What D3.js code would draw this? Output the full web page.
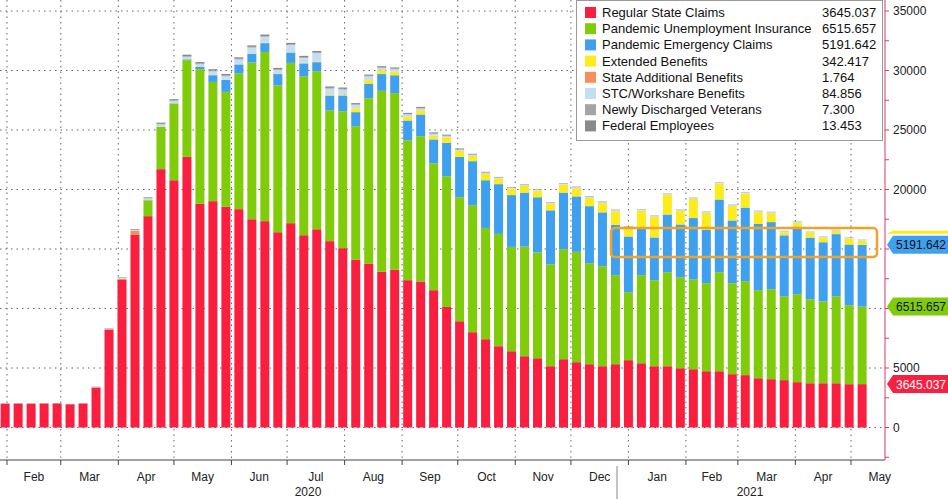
<!DOCTYPE html>
<html><head><meta charset="utf-8">
<script src="https://cdnjs.cloudflare.com/ajax/libs/d3/7.8.5/d3.min.js"></script>
<style>
body{margin:0;background:#fff;}
text{font-family:"Liberation Sans Narrow","Liberation Sans",Arial,sans-serif;}
</style></head><body>
<svg id="chart" width="948" height="499"></svg>
<script>
// weekly continued claims (thousands), week 0 = end of Jan 2020
var firstWeek = new Date(2020, 0, 31);
var nWeeks = 67;

var regular = [2000,2010,2000,2010,2020,1950,2010,3360,8230,12440,16220,17760,21710,20780,22740,18790,19020,18540,18350,17500,17340,16410,17170,16160,16660,15660,15070,14120,13780,13080,13250,12380,12270,11540,10130,8930,8010,7420,6830,6410,5990,5820,5150,5740,5490,5320,5150,5320,5660,5400,5150,5150,4980,4900,4730,4730,4480,4400,4140,4060,3980,3810,3720,3720,3720,3640,3645.037];
var pua = [0,0,0,0,0,0,0,0,0,0,0,1330,3550,6450,8130,11320,10020,9660,11400,13170,14220,12350,13470,13360,13280,11000,11510,11200,13890,15210,14850,11760,12210,10650,10990,10420,10670,9350,9440,8770,9210,8890,8570,9240,9270,8490,8400,7480,5710,7400,7230,7900,7650,7560,7400,8320,7650,7900,7400,7560,7050,7390,7060,6880,7310,6640,6515.657];
var peuc = [0,0,0,0,0,0,0,0,0,0,0,0,0,0,60,190,560,1000,750,730,740,940,860,1080,760,1240,1320,1180,1230,1410,1500,1660,1820,2020,2810,3390,3700,4010,4180,4350,4540,4640,4530,4760,4660,4790,4530,4240,4680,3920,3590,4850,4430,5140,4470,6110,5270,6180,5560,5640,5120,5670,5180,4970,5220,5100,5191.642];
var extended = [0,0,0,0,0,0,0,0,0,0,0,0,0,0,0,10,10,10,10,10,20,20,20,30,40,60,80,300,300,300,300,300,350,300,450,500,420,520,450,530,560,550,550,660,680,700,770,1120,710,1500,1730,1650,1140,1600,1430,1340,1200,1170,990,740,250,330,390,390,250,500,342.417];
var stateAdd = [0,0,0,0,0,0,0,20,40,60,300,20,20,20,20,20,20,20,20,20,20,20,20,20,20,20,20,10,10,10,10,10,10,10,10,10,10,5,5,5,5,5,5,5,5,5,5,5,5,5,5,5,5,5,5,5,5,5,5,5,5,2,2,2,2,2,1.764];
var stc = [0,0,0,0,0,0,0,20,40,60,80,150,200,200,200,200,300,300,400,500,500,300,600,400,700,500,400,300,300,200,200,200,150,150,100,100,100,100,90,90,90,90,90,90,90,90,90,90,90,90,90,90,90,90,90,90,90,90,90,90,90,90,85,85,85,85,84.856];
var veterans = [10,10,10,10,10,10,10,10,10,15,20,20,40,40,60,60,60,60,60,60,60,60,60,60,60,60,60,50,50,50,50,40,40,40,40,30,30,30,20,20,20,20,20,20,20,20,20,20,20,20,10,10,10,10,10,10,10,10,10,10,10,10,8,8,8,8,7.300];
var federal = [20,20,20,20,20,20,20,20,30,40,60,60,100,100,120,120,120,120,120,120,120,120,120,120,120,120,110,100,100,100,100,90,90,90,80,70,60,50,40,40,30,30,30,30,30,30,30,30,30,20,20,20,20,20,20,20,20,20,20,20,20,20,15,15,15,15,13.453];

var seriesNames = ["Regular State Claims","Pandemic Unemployment Insurance","Pandemic Emergency Claims","Extended Benefits","State Additional Benefits","STC/Workshare Benefits","Newly Discharged Veterans","Federal Employees"];
var seriesColors = ["#fa1e3f","#80cc0b","#3fa0ef","#fcec1c","#f4915a","#c4def2","#a4a4a4","#8a8a8a"];
var seriesData = [regular,pua,peuc,extended,stateAdd,stc,veterans,federal];
var yTicks = [0,5000,10000,15000,20000,25000,30000,35000];
var monthLabels = ["Feb","Mar","Apr","May","Jun","Jul","Aug","Sep","Oct","Nov","Dec","Jan","Feb","Mar","Apr","May"];

var svg = d3.select("#chart");
var weeks = d3.range(nWeeks).map(i => d3.timeDay.offset(firstWeek, 7 * i));

var x = d3.scaleTime().domain([new Date(2020,1,1), new Date(2021,4,1)]).range([7, 851]);
var y = d3.scaleLinear().domain([0, 35000]).range([427.5, 11]);

// build stack table
var keys = seriesNames;
var table = weeks.map(function(d, i) {
  var row = {date: d};
  keys.forEach(function(k, j) { row[k] = seriesData[j][i]; });
  return row;
});
var stacked = d3.stack().keys(keys)(table);

// grid
svg.append("g").selectAll("line").data(d3.range(0, 35001, 5000)).join("line")
  .attr("x1", 0).attr("x2", 883).attr("y1", d => y(d)).attr("y2", d => y(d))
  .attr("stroke", "#666").attr("stroke-dasharray", "1.5,4");

var monthStarts = d3.timeMonth.range(new Date(2020,1,1), new Date(2021,4,2));
svg.append("g").selectAll("line").data(monthStarts).join("line")
  .attr("x1", d => x(d)).attr("x2", d => x(d)).attr("y1", 0).attr("y2", 460)
  .attr("stroke", "#666").attr("stroke-dasharray", "1.5,4");

// bars
var barW = 9;
svg.append("g").selectAll("g").data(stacked).join("g")
  .attr("fill", (d, i) => seriesColors[i])
  .selectAll("rect").data(d => d).join("rect")
  .attr("x", d => x(d.data.date) - barW / 2)
  .attr("width", barW)
  .attr("y", d => y(d[1]))
  .attr("height", d => Math.max(0, y(d[0]) - y(d[1])));

// highlight box
svg.append("rect").attr("x", 611).attr("y", 228).attr("width", 266).attr("height", 29)
  .attr("rx", 4).attr("fill", "none").attr("stroke", "#f0a22a").attr("stroke-width", 2.5);

// x axis
svg.append("line").attr("x1", 0).attr("x2", 885).attr("y1", 460).attr("y2", 460).attr("stroke", "#444");
svg.append("g").selectAll("line").data(monthStarts).join("line")
  .attr("x1", d => x(d)).attr("x2", d => x(d)).attr("y1", 460).attr("y2", 465).attr("stroke", "#444");
// label each month at the middle of its span
var monthMids = monthStarts.map(function(d) {
  var next = d3.timeMonth.offset(d, 1);
  return x(new Date((+d + +next) / 2));
});
svg.append("g").selectAll("text").data(monthLabels).join("text")
  .attr("x", (d, i) => monthMids[i]).attr("y", 481).attr("text-anchor", "middle")
  .attr("font-size", 12).attr("fill", "#222").text(d => d);
svg.append("text").attr("x", 308).attr("y", 496).attr("text-anchor", "middle").attr("font-size", 12).attr("fill", "#222").text("2020");
svg.append("text").attr("x", 750).attr("y", 496).attr("text-anchor", "middle").attr("font-size", 12).attr("fill", "#222").text("2021");
svg.append("line").attr("x1", 617).attr("x2", 617).attr("y1", 466).attr("y2", 499).attr("stroke", "#888");

// y axis on right
var axisColor = "#d8386a";
svg.append("line").attr("x1", 885).attr("x2", 885).attr("y1", 0).attr("y2", 460).attr("stroke", axisColor);
svg.append("g").selectAll("line").data(d3.range(-2500, 35001, 2500)).join("line")
  .attr("x1", 885).attr("x2", 889).attr("y1", d => y(d)).attr("y2", d => y(d)).attr("stroke", axisColor);
svg.append("g").selectAll("text").data(yTicks).join("text")
  .attr("x", 893).attr("y", d => y(d) + 4).attr("font-size", 12).attr("fill", "#222").text(d => d);

// value tags
var tags = [
  {v: regular[nWeeks - 1], top: regular[nWeeks - 1], c: seriesColors[0], t: "#fff"},
  {v: pua[nWeeks - 1], top: regular[nWeeks - 1] + pua[nWeeks - 1], c: seriesColors[1], t: "#111"},
  {v: peuc[nWeeks - 1], top: regular[nWeeks - 1] + pua[nWeeks - 1] + peuc[nWeeks - 1], c: seriesColors[2], t: "#111"}
];
svg.append("path").attr("d", "M887," + (y(tags[2].top) - 11) + "l6,-3h55v3z").attr("fill", seriesColors[3]);
var tg = svg.append("g").selectAll("g").data(tags).join("g")
  .attr("transform", d => "translate(887," + y(d.top) + ")");
tg.append("path").attr("d", "M0,0L6,-9H61V9H6Z").attr("fill", d => d.c);
tg.append("text").attr("x", 34).attr("y", 4.5).attr("text-anchor", "middle").attr("font-size", 12)
  .attr("fill", d => d.t).text(d => d3.format(".3f")(d.v));

// legend
var lg = svg.append("g");
lg.append("rect").attr("x", 576.5).attr("y", 0.5).attr("width", 306).attr("height", 140)
  .attr("fill", "#fff").attr("stroke", "#999");
var rows = lg.selectAll("g").data(seriesNames).join("g")
  .attr("transform", (d, i) => "translate(0," + (16 + i * 16.2) + ")");
rows.append("rect").attr("x", 585).attr("y", -9).attr("width", 11).attr("height", 11).attr("fill", (d, i) => seriesColors[i]);
rows.append("text").attr("x", 602).attr("y", 1).attr("font-size", 13).attr("fill", "#111")
  .style("font-family", "'Liberation Sans',Arial,sans-serif").text(d => d);
rows.append("text").attr("x", 822).attr("y", 1).attr("font-size", 13).attr("fill", "#111")
  .style("font-family", "'Liberation Sans',Arial,sans-serif")
  .text((d, i) => d3.format(".3f")(seriesData[i][nWeeks - 1]));
</script>
</body></html>
